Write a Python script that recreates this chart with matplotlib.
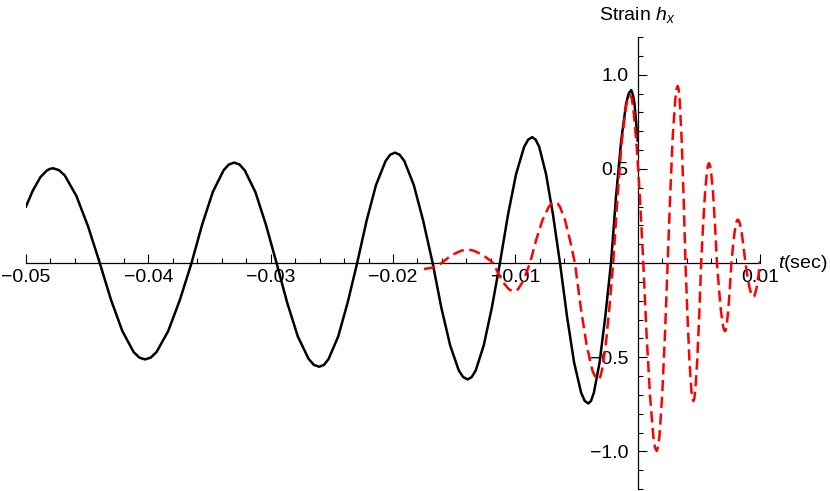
import numpy as np
import matplotlib
matplotlib.use('Agg')
import matplotlib.pyplot as plt
from matplotlib.ticker import FixedLocator, MultipleLocator, FuncFormatter

plt.rcParams['font.family'] = ['Liberation Sans', 'DejaVu Sans']
plt.rcParams['mathtext.fontset'] = 'custom'
plt.rcParams['mathtext.rm'] = 'Liberation Sans'
plt.rcParams['mathtext.it'] = 'Liberation Sans:italic'

# Waveform, time in milliseconds.
black_t_ms = [
    -50.00, -49.44, -48.82, -48.28, -48.03, -47.78,
    -47.30, -46.83, -45.88, -44.92, -43.97,
    -43.05, -42.12, -41.20, -40.74, -40.28,
    -39.80, -39.33, -38.38, -37.42, -36.47,
    -35.60, -34.73, -33.85, -33.42, -32.98,
    -32.55, -32.12, -31.25, -30.39, -29.52,
    -28.65, -27.78, -26.90, -26.47, -26.03,
    -25.64, -25.26, -24.48, -23.71, -22.93,
    -22.16, -21.39, -20.61, -20.23, -19.84,
    -19.46, -19.07, -18.30, -17.53, -16.76,
    -16.05, -15.33, -14.62, -14.26, -13.90,
    -13.57, -13.24, -12.58, -11.92, -11.26,
    -10.60, -9.94, -9.28, -8.95, -8.62,
    -8.34, -8.05, -7.49, -6.92, -6.35,
    -5.77, -5.20, -4.62, -4.33, -4.04,
    -3.81, -3.58, -3.11, -2.65, -2.18,
    -1.77, -1.35, -0.94, -0.73, -0.52,
    -0.39, -0.26, 0.00,
]
black_h = [
    0.300, 0.385, 0.456, 0.492, 0.500, 0.503,
    0.493, 0.465, 0.356, 0.193, 0.0,
    -0.196, -0.362, -0.473, -0.502, -0.512,
    -0.502, -0.473, -0.362, -0.196, 0.0,
    0.204, 0.377, 0.492, 0.523, 0.533,
    0.523, 0.492, 0.377, 0.204, 0.0,
    -0.211, -0.390, -0.509, -0.541, -0.551,
    -0.541, -0.509, -0.390, -0.211, 0.0,
    0.224, 0.414, 0.541, 0.575, 0.586,
    0.575, 0.541, 0.414, 0.224, 0.0,
    -0.237, -0.437, -0.571, -0.606, -0.618,
    -0.606, -0.571, -0.437, -0.237, 0.0,
    0.256, 0.472, 0.617, 0.655, 0.668,
    0.655, 0.617, 0.472, 0.256, 0.0,
    -0.286, -0.527, -0.689, -0.732, -0.746,
    -0.732, -0.689, -0.527, -0.286, 0.0,
    0.352, 0.649, 0.848, 0.901, 0.918,
    0.893, 0.848, 0.650,
]

red_t_ms = [
    -17.47, -16.75, -16.03,
    -15.50, -14.97, -14.43, -14.17, -13.90,
    -13.64, -13.38, -12.86, -12.33, -11.81,
    -11.38, -10.96, -10.53, -10.31, -10.10,
    -9.94, -9.78, -9.45, -9.13, -8.80,
    -8.29, -7.78, -7.27, -7.02, -6.76,
    -6.56, -6.35, -5.94, -5.54, -5.13,
    -4.65, -4.17, -3.70, -3.46, -3.22,
    -3.07, -2.92, -2.61, -2.31, -2.00,
    -1.66, -1.32, -0.97, -0.80, -0.63,
    -0.49, -0.36, -0.09, 0.19, 0.46,
    0.73, 1.01, 1.28, 1.41, 1.55,
    1.66, 1.78, 2.00, 2.23, 2.45,
    2.66, 2.86, 3.07, 3.17, 3.27,
    3.35, 3.43, 3.59, 3.75, 3.91,
    4.07, 4.23, 4.39, 4.47, 4.55,
    4.63, 4.71, 4.87, 5.03, 5.19,
    5.35, 5.51, 5.67, 5.75, 5.83,
    5.91, 5.99, 6.16, 6.32, 6.48,
    6.65, 6.81, 6.98, 7.06, 7.14,
    7.21, 7.27, 7.40, 7.53, 7.66,
    7.79, 7.92, 8.05, 8.12, 8.18,
    8.26, 8.34, 8.50, 8.65, 8.81,
    8.97, 9.13, 9.29, 9.37, 9.45,
    9.52, 9.59, 9.73, 9.87, 10.00,
]
red_h = [
    -0.032, -0.024, 0.0,
    0.027, 0.049, 0.065, 0.069, 0.070,
    0.069, 0.065, 0.049, 0.027, 0.0,
    -0.057, -0.106, -0.139, -0.147, -0.150,
    -0.147, -0.139, -0.106, -0.057, 0.0,
    0.124, 0.228, 0.298, 0.317, 0.323,
    0.317, 0.298, 0.228, 0.124, 0.0,
    -0.237, -0.437, -0.571, -0.606, -0.618,
    -0.606, -0.571, -0.437, -0.237, 0.0,
    0.341, 0.631, 0.824, 0.875, 0.892,
    0.875, 0.824, 0.631, 0.341, 0.0,
    -0.382, -0.706, -0.922, -0.979, -0.998,
    -0.979, -0.922, -0.706, -0.382, 0.0,
    0.360, 0.665, 0.868, 0.922, 0.940,
    0.922, 0.868, 0.665, 0.360, 0.0,
    -0.281, -0.518, -0.677, -0.719, -0.733,
    -0.719, -0.677, -0.518, -0.281, 0.0,
    0.203, 0.375, 0.490, 0.520, 0.530,
    0.520, 0.490, 0.375, 0.203, 0.0,
    -0.139, -0.256, -0.334, -0.355, -0.362,
    -0.355, -0.334, -0.256, -0.139, 0.0,
    0.088, 0.163, 0.213, 0.226, 0.230,
    0.226, 0.213, 0.163, 0.088, 0.0,
    -0.069, -0.128, -0.166, -0.177, -0.180,
    -0.177, -0.166, -0.128, -0.069, 0.010,
]

x_ticks = [-0.05, -0.04, -0.03, -0.02, -0.01, 0.01]
y_ticks = [-1.0, -0.5, 0.5, 1.0]


def _fmt(v, pos=None):
    s = f"{v:.2f}" if abs(v) < 0.1 else f"{v:.1f}"
    return s.replace('-', '\u2212')


fig = plt.figure(figsize=(8.3, 4.91), dpi=100)
ax = fig.add_axes([26 / 830, 2 / 491, 734 / 830, 452 / 491])

ax.plot(np.array(black_t_ms) * 1e-3, black_h, color='black', lw=1.8,
        solid_joinstyle='round', zorder=3)
ax.plot(np.array(red_t_ms) * 1e-3, red_h, color='red', lw=1.8,
        dashes=(4.5, 2.2), dash_joinstyle='round', zorder=4)

ax.set_xlim(-0.05, 0.01)
ax.set_ylim(-1.2, 1.2)

# Axes through the origin, Mathematica style.
for side in ['top', 'right']:
    ax.spines[side].set_visible(False)
ax.spines['left'].set_position(('data', 0))
ax.spines['bottom'].set_position(('data', 0))
for side in ['left', 'bottom']:
    ax.spines[side].set_linewidth(0.9)
    ax.spines[side].set_zorder(1)

ax.xaxis.set_major_locator(FixedLocator(x_ticks))
ax.xaxis.set_minor_locator(MultipleLocator(0.002))
ax.yaxis.set_major_locator(FixedLocator(y_ticks))
ax.yaxis.set_minor_locator(MultipleLocator(0.1))
ax.xaxis.set_major_formatter(FuncFormatter(_fmt))
ax.yaxis.set_major_formatter(FuncFormatter(_fmt))

ax.tick_params(which='major', direction='in', length=6.5, width=0.8, labelsize=14)
ax.tick_params(which='minor', direction='in', length=3.6, width=0.8)
ax.tick_params(axis='x', which='major', pad=4.5)
ax.tick_params(axis='y', which='major', pad=6.5)

ax.annotate('Strain $h_x$', xy=(0, 1.2), xytext=(0, 9), textcoords='offset points',
            ha='center', va='bottom', fontsize=14, annotation_clip=False)
ax.annotate('$t$(sec)', xy=(0.01, 0), xytext=(13, 0), textcoords='offset points',
            ha='left', va='center', fontsize=14, annotation_clip=False)

fig.savefig('out.png', dpi=100)
